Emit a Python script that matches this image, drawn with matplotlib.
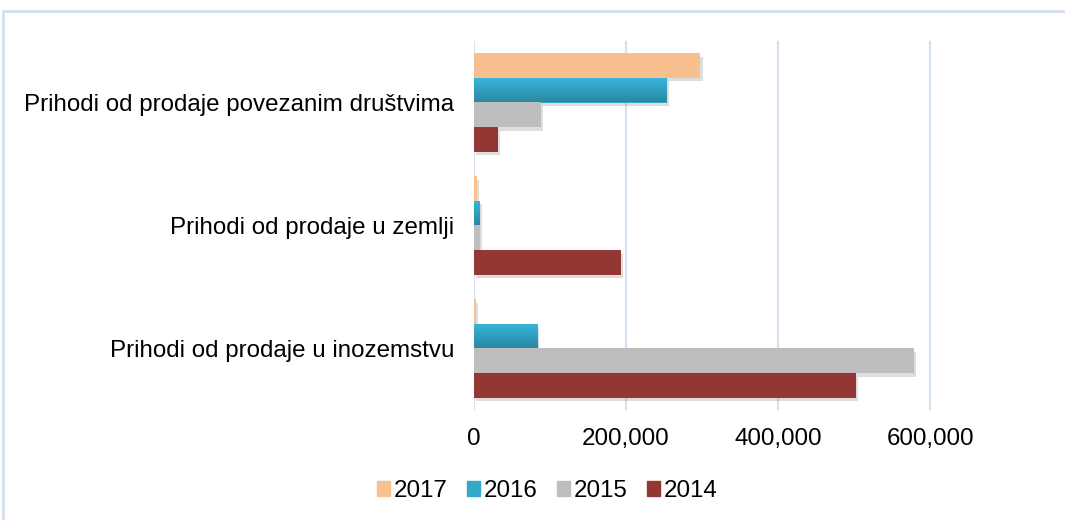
import numpy as np
import matplotlib
matplotlib.use('Agg')
import matplotlib.pyplot as plt
import matplotlib.patheffects as pe
from matplotlib.patches import Rectangle, Patch
from matplotlib.ticker import FuncFormatter

plt.rcParams['font.family'] = ['Liberation Sans', 'DejaVu Sans']

categories = ['Prihodi od prodaje u inozemstvu',
              'Prihodi od prodaje u zemlji',
              'Prihodi od prodaje povezanim društvima']
years = ['2017', '2016', '2015', '2014']
v2017 = [2000, 3500, 298000]
v2016 = [83000, 7500, 253500]
v2015 = [578500, 8000, 88000]
v2014 = [502000, 193500, 32000]
colors = ['#F9C08F', '#33A8CB', '#BEBEBE', '#943634']

series = [v2017, v2016, v2015, v2014]

fig = plt.figure(figsize=(10.65, 5.2), dpi=100)
ax = fig.add_axes([474/1065, 1 - 410/520, 532/1065, 369/520])

y = np.arange(len(categories))
h = 0.2
shadow = [pe.SimplePatchShadow(offset=(1.5, -2.5), shadow_rgbFace='#7a7a7a', alpha=0.25), pe.Normal()]
for i, (vals, col) in enumerate(zip(series, colors)):
    pos = y + 0.3 - i * h
    bars = ax.barh(pos, vals, height=h, color=col, zorder=3)
    for b in bars:
        b.set_path_effects(shadow)
    if years[i] == '2016':
        grad = np.linspace(0, 1, 64).reshape(-1, 1)
        cmap = matplotlib.colors.LinearSegmentedColormap.from_list('g', ['#2A88A2', '#38B7DB'])
        for b in bars:
            x0, y0, w, hh = b.get_x(), b.get_y(), b.get_width(), b.get_height()
            im = ax.imshow(grad, cmap=cmap, extent=[x0, x0 + w, y0, y0 + hh],
                           origin='lower', aspect='auto', zorder=4)
            im.set_clip_path(b)

ax.set_xlim(0, 700000)
ax.set_ylim(-0.5, 2.5)
ax.set_xticks([0, 200000, 400000, 600000])
ax.xaxis.set_major_formatter(FuncFormatter(lambda v, p: f'{int(v):,}'))
ax.set_yticks(y)
ax.set_yticklabels(categories)
ax.tick_params(axis='x', length=0, pad=13, labelsize=17.4)
ax.tick_params(axis='y', length=0, pad=14, labelsize=17.4)
ax.grid(axis='x', color='#D5E1F1', linewidth=1.6, zorder=0)
for s in ax.spines.values():
    s.set_visible(False)

handles = [Patch(color=c) for c in colors]
fig.legend(handles, years, loc='center', bbox_to_anchor=(547/1065, 1 - 491/520),
           ncol=4, frameon=False, fontsize=17.4, handlelength=0.55, handleheight=0.55,
           handletextpad=0.15, columnspacing=0.8)

fig.patches.append(Rectangle((3/1065, -0.1), 1.2, 1.1 - 11/520,
                             transform=fig.transFigure, fill=False,
                             edgecolor='#D3E0F0', linewidth=2))

fig.savefig('out.png', dpi=100)
